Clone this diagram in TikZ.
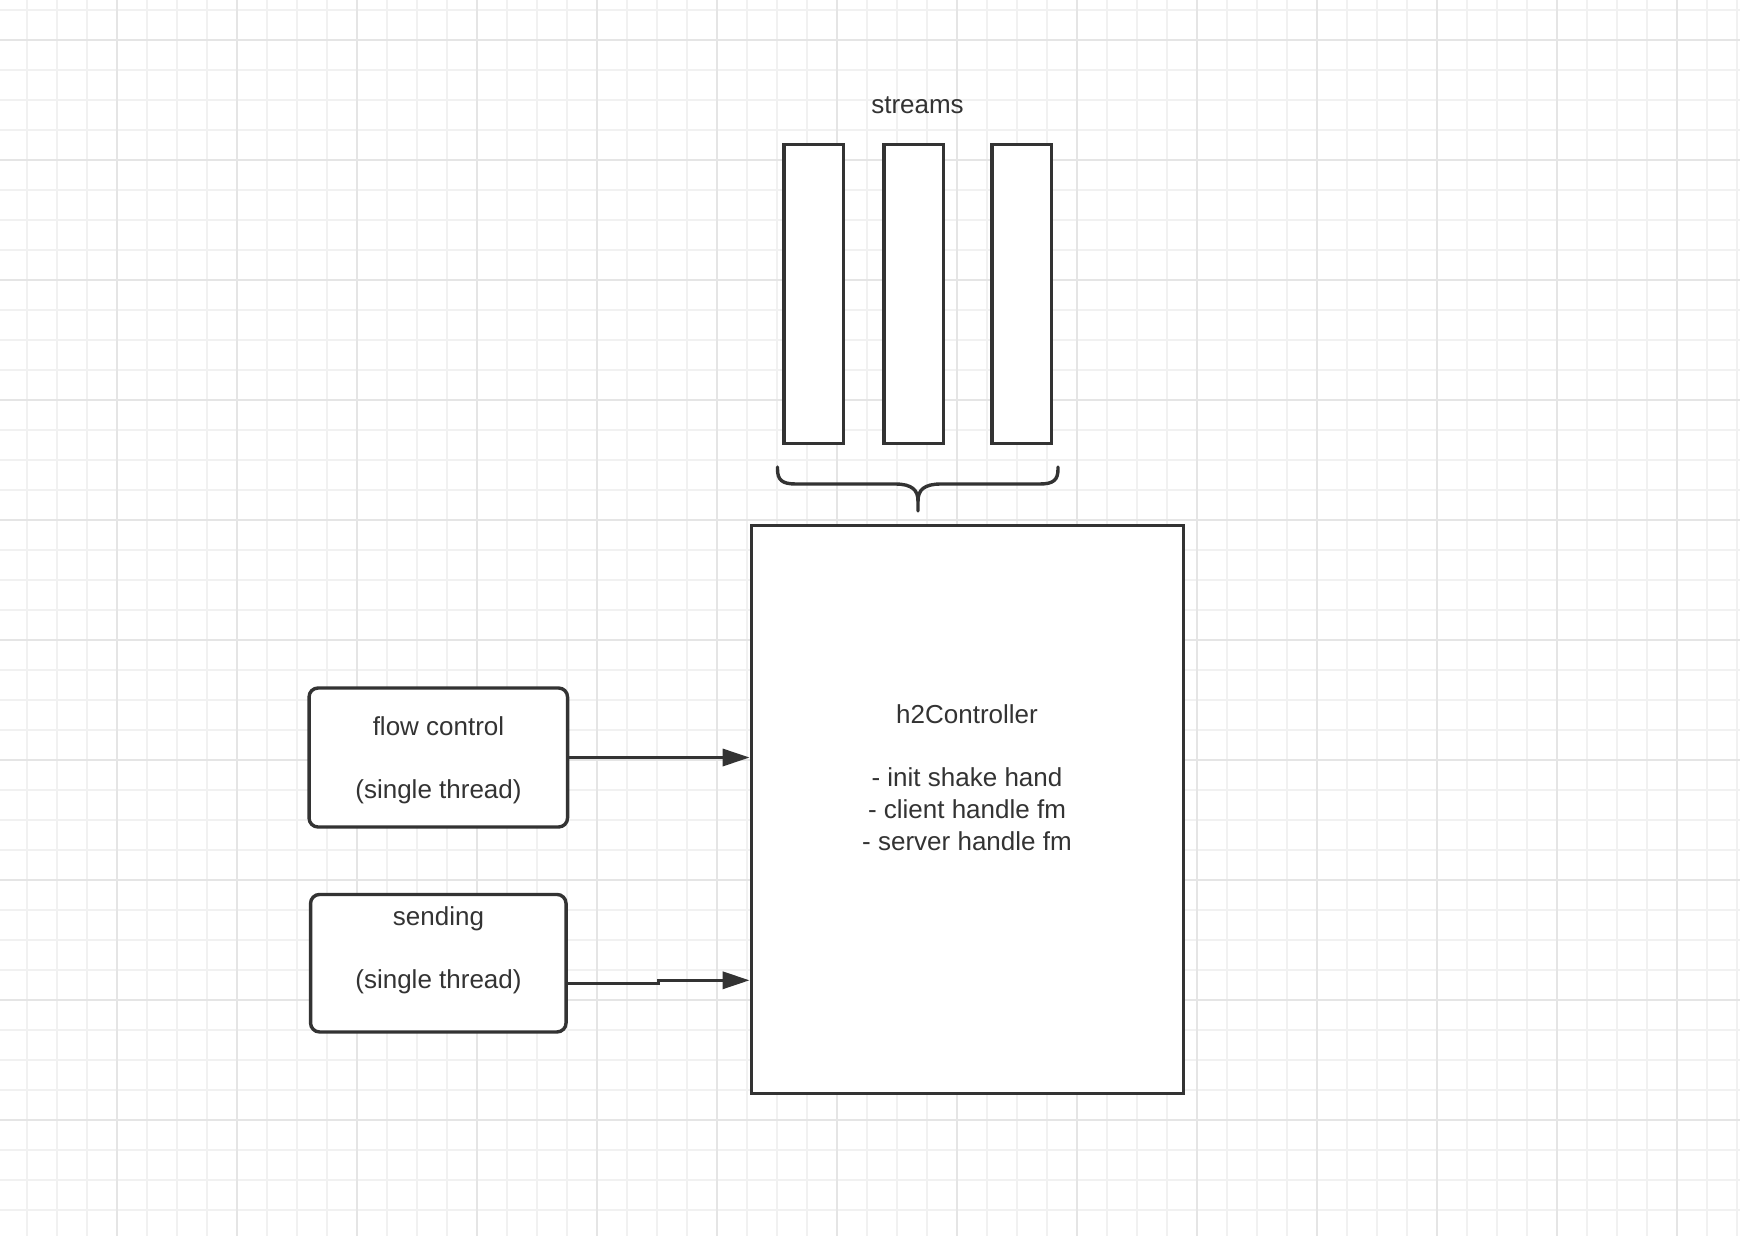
\documentclass[tikz,border=0pt]{standalone}
\usepackage{fontspec}
\setmainfont{Liberation Sans}
\usetikzlibrary{arrows.meta}
\definecolor{ink}{HTML}{333333}
\definecolor{gridminor}{HTML}{F1F1F1}
\definecolor{gridmajor}{HTML}{E5E5E5}
\begin{document}
\begin{tikzpicture}[x=0.5pt,y=-0.5pt,
  frame/.style={draw=ink, line width=1.7pt, fill=white, inner sep=0pt},
  lane/.style={frame, minimum width=29.65pt, minimum height=149.3pt},
  worker/.style={frame, rounded corners=4.5pt},
  label/.style={anchor=base, text=ink, inner sep=0pt,
    font=\fontsize{13pt}{15.8pt}\selectfont},
  link/.style={draw=ink, line width=1.7pt,
    -{Triangle[length=13.5pt,width=8.5pt]}},
  bracket/.style={draw=ink, line width=1.7pt, line cap=round, line join=round},
  minorline/.style={draw=gridminor, line width=1pt},
  majorline/.style={draw=gridmajor, line width=1.2pt}]

% canvas and grid paper
\fill[white] (0,0) rectangle (1740,1236);
\useasboundingbox (0,0) rectangle (1740,1236);
\foreach \gx in {27,57,...,1737} \draw[minorline] (\gx,0) -- (\gx,1236);
\foreach \gy in {10,40,...,1230} \draw[minorline] (0,\gy) -- (1740,\gy);
\foreach \gx in {117,237,...,1677} \draw[majorline] (\gx,0) -- (\gx,1236);
\foreach \gy in {40,160,...,1120} \draw[majorline] (0,\gy) -- (1740,\gy);

% stream lanes
\node[label] (streamsTitle) at (917.5,113.3) {streams};
\node[lane] (s1) at (813.6,294) {};
\node[lane] (s2) at (913.6,294) {};
\node[lane] (s3) at (1021.8,294) {};

% brace grouping the streams
\draw[bracket]
  (777.5,467) -- (777.5,469) .. controls (777.5,480) and (782,484) .. (796,484) -- (895,484)
  .. controls (912,484) and (918,490) .. (918,501) -- (918,511);
\draw[bracket]
  (1058,467) -- (1058,469) .. controls (1058,480) and (1053.5,484) .. (1039.5,484) -- (941,484)
  .. controls (924,484) and (918,490) .. (918,501);

% controller
\node[frame, minimum width=216.2pt, minimum height=284pt] (h2) at (967.5,809.3) {};
\node[label] (h2Title) at (967,723) {h2Controller};
\node[label] (h2a) at (967,786.5) {- init shake hand};
\node[label] (h2b) at (967,818.5) {- client handle fm};
\node[label] (h2c) at (967,850.5) {- server handle fm};

% worker threads
\node[worker, minimum width=129.25pt, minimum height=69.5pt] (flow) at (438.3,757.5) {};
\node[label] (flowA) at (438.5,735) {flow control};
\node[label] (flowB) at (438.5,798) {(single thread)};

\node[worker, minimum width=127.75pt, minimum height=68.75pt] (send) at (438.3,963.2) {};
\node[label] (sendA) at (438.5,925) {sending};
\node[label] (sendB) at (438.5,988) {(single thread)};

% connectors
\draw[link] (flow.east) -- (flow.east -| h2.west);
\coordinate (sendIn) at (751,980.3);
\draw[link] ([yshift=-10.25pt]send.east) -- (658.3,983.7) -- (658.3,980.3) -- (h2.west |- sendIn);
\end{tikzpicture}
\end{document}
